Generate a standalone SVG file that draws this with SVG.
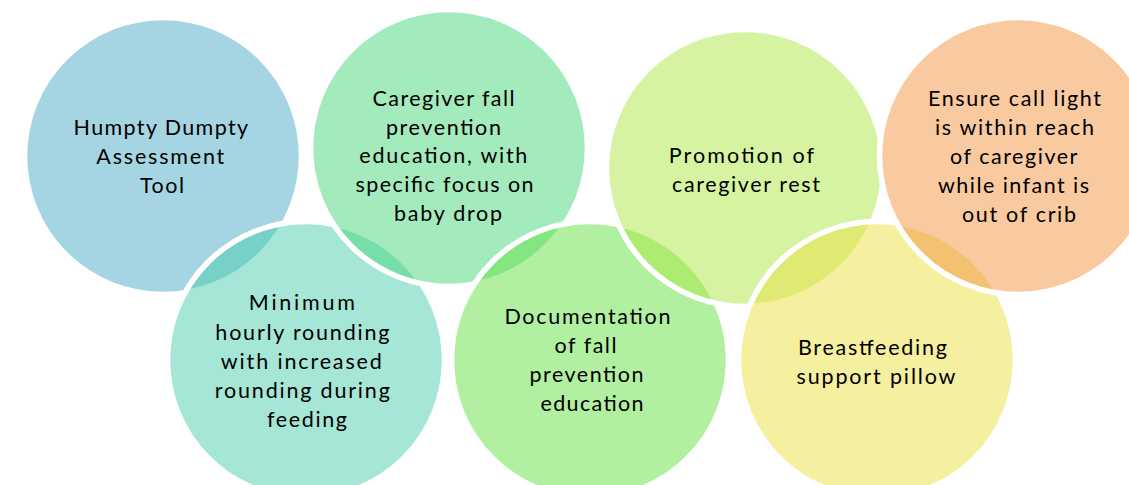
<svg xmlns="http://www.w3.org/2000/svg" width="1129" height="485" viewBox="0 0 1129 485">
  <style>
    .disc { fill-opacity: 0.5; stroke: #ffffff; stroke-width: 5.5; }
    .label { font-family: Lato, "Liberation Sans", sans-serif; font-size: 21.5px; fill: #000000; text-anchor: middle; }
  </style>
  <rect width="1129" height="485" fill="#ffffff"/>

  <!-- circles are stacked in this order so each white rim cuts over the one beneath -->
  <g id="node-humpty">
    <circle class="disc" cx="163" cy="156" r="138.5" fill="#4BABC5"/>
    <text class="label">
      <tspan x="164" y="135" textLength="174" lengthAdjust="spacing">Humpty Dumpty</tspan>
      <tspan x="164" y="164" textLength="128" lengthAdjust="spacing">Assessment</tspan>
      <tspan x="162" y="193" textLength="44" lengthAdjust="spacing">Tool</tspan>
    </text>
  </g>

  <g id="node-rounding">
    <circle class="disc" cx="306" cy="360" r="138.5" fill="#4BCDAD"/>
    <text class="label">
      <tspan x="306" y="310" textLength="106" lengthAdjust="spacing">Minimum</tspan>
      <tspan x="306" y="340" textLength="174" lengthAdjust="spacing">hourly rounding</tspan>
      <tspan x="305" y="369" textLength="161" lengthAdjust="spacing">with increased</tspan>
      <tspan x="306" y="398" textLength="175" lengthAdjust="spacing">rounding during</tspan>
      <tspan x="307" y="427" textLength="80" lengthAdjust="spacing">feeding</tspan>
    </text>
  </g>

  <g id="node-education">
    <circle class="disc" cx="449" cy="148" r="138.5" fill="#47D57B"/>
    <text class="label">
      <tspan x="447" y="106" textLength="142" lengthAdjust="spacing">Caregiver fall</tspan>
      <tspan x="447" y="135" textLength="115" lengthAdjust="spacing">prevention</tspan>
      <tspan x="447" y="163" textLength="168" lengthAdjust="spacing">education, with</tspan>
      <tspan x="448" y="192" textLength="178" lengthAdjust="spacing">specific focus on</tspan>
      <tspan x="448" y="221" textLength="108" lengthAdjust="spacing">baby drop</tspan>
    </text>
  </g>

  <g id="node-documentation">
    <circle class="disc" cx="590" cy="360" r="138.5" fill="#63E143"/>
    <text class="label">
      <tspan x="591" y="324" textLength="166" lengthAdjust="spacing">Documentation</tspan>
      <tspan x="589" y="353" textLength="62" lengthAdjust="spacing">of fall</tspan>
      <tspan x="590" y="382" textLength="114" lengthAdjust="spacing">prevention</tspan>
      <tspan x="592" y="411" textLength="103" lengthAdjust="spacing">education</tspan>
    </text>
  </g>

  <g id="node-rest">
    <circle class="disc" cx="745" cy="168" r="138.5" fill="#ABE741"/>
    <text class="label">
      <tspan x="745" y="163" textLength="145" lengthAdjust="spacing">Promotion of</tspan>
      <tspan x="746" y="192" textLength="148" lengthAdjust="spacing">caregiver rest</tspan>
    </text>
  </g>

  <g id="node-pillow">
    <circle class="disc" cx="877" cy="360" r="138.5" fill="#EBDF41"/>
    <text class="label">
      <tspan x="876" y="355" textLength="149" lengthAdjust="spacing">Breastfeeding</tspan>
      <tspan x="876" y="384" textLength="159" lengthAdjust="spacing">support pillow</tspan>
    </text>
  </g>

  <g id="node-call-light">
    <circle class="disc" cx="1018" cy="156" r="138.5" fill="#F39341"/>
    <text class="label">
      <tspan x="1018" y="106" textLength="173" lengthAdjust="spacing">Ensure call light</tspan>
      <tspan x="1018" y="135" textLength="159" lengthAdjust="spacing">is within reach</tspan>
      <tspan x="1017" y="164" textLength="127" lengthAdjust="spacing">of caregiver</tspan>
      <tspan x="1017" y="193" textLength="151" lengthAdjust="spacing">while infant is</tspan>
      <tspan x="1019" y="222" textLength="114" lengthAdjust="spacing">out of crib</tspan>
    </text>
  </g>

  <g id="connectors"/>
</svg>
